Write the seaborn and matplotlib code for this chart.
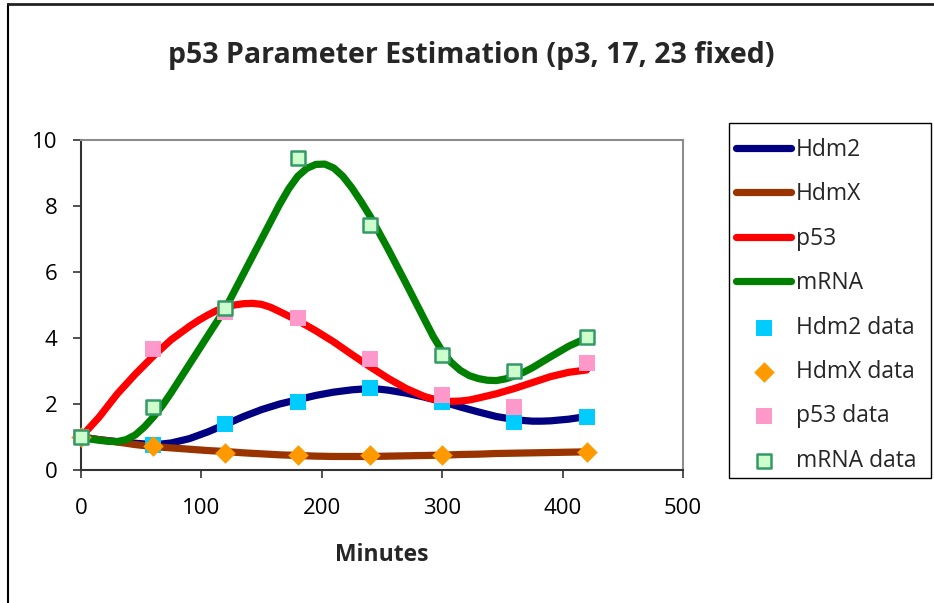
import numpy as np
import pandas as pd
import matplotlib
matplotlib.use("Agg")
import matplotlib.pyplot as plt
import seaborn as sns
from matplotlib.lines import Line2D
from matplotlib.patches import Rectangle

# ---- model curves ----
hdm2_minutes = [0, 15, 30, 45, 52.5, 60, 67.5, 75, 90, 105, 120, 135, 150, 165, 180, 195, 210,
                225, 232.5, 240, 247.5, 255, 270, 285, 300, 315, 330, 345, 360, 367.5, 375,
                382.5, 390, 405, 420]
hdm2_model = [1.0, 0.92, 0.86, 0.81, 0.79, 0.78, 0.79, 0.82, 0.95, 1.15, 1.38, 1.62, 1.83, 2.00,
              2.13, 2.26, 2.36, 2.43, 2.45, 2.46, 2.45, 2.42, 2.33, 2.21, 2.07, 1.91, 1.76, 1.62,
              1.53, 1.50, 1.48, 1.48, 1.49, 1.54, 1.62]

hdmx_minutes = [0, 15, 30, 45, 60, 75, 90, 105, 120, 135, 150, 165, 180, 195, 210,
                225, 240, 255, 270, 285, 300, 315, 330, 345, 360, 375, 390, 405, 420]
hdmx_model = [1.0, 0.92, 0.85, 0.77, 0.71, 0.67, 0.63, 0.59, 0.56, 0.52, 0.49, 0.46, 0.44, 0.42,
              0.41, 0.41, 0.41, 0.42, 0.43, 0.44, 0.45, 0.47, 0.48, 0.50, 0.51, 0.52, 0.53, 0.54,
              0.55]

p53_minutes = [0, 15, 30, 45, 60, 75, 90, 97.5, 105, 112.5, 120, 127.5, 135, 142.5, 150, 157.5,
               165, 180, 195, 210, 225, 240, 255, 270, 285, 292.5, 300, 307.5, 315, 322.5, 330,
               345, 360, 375, 390, 405, 420]
p53_model = [1.0, 1.6, 2.3, 2.9, 3.45, 3.95, 4.35, 4.53, 4.69, 4.83, 4.93, 5.0, 5.04, 5.05, 5.02,
             4.93, 4.8, 4.53, 4.22, 3.88, 3.5, 3.13, 2.78, 2.47, 2.23, 2.15, 2.10, 2.08, 2.09,
             2.12, 2.18, 2.31, 2.47, 2.65, 2.83, 2.96, 3.03]

mrna_minutes = [0, 7.5, 15, 22.5, 30, 37.5, 45, 52.5, 60, 67.5, 75, 90, 105, 120, 135, 150, 165,
                172.5, 180, 187.5, 195, 202.5, 210, 217.5, 225, 232.5, 240, 255, 270, 285, 292.5,
                300, 307.5, 315, 322.5, 330, 337.5, 345, 352.5, 360, 367.5, 375, 390, 405, 420]
mrna_model = [1.0, 0.94, 0.90, 0.87, 0.86, 0.92, 1.06, 1.30, 1.60, 1.95, 2.35, 3.2, 4.05, 4.9,
              5.95, 7.0, 8.05, 8.52, 8.9, 9.14, 9.26, 9.27, 9.15, 8.9, 8.55, 8.14, 7.7, 6.7, 5.65,
              4.58, 4.05, 3.6, 3.26, 3.02, 2.86, 2.77, 2.72, 2.71, 2.76, 2.85, 2.96, 3.1, 3.43,
              3.75, 4.0]

# ---- measured data ----
data_minutes = [0, 60, 120, 180, 240, 300, 360, 420]
hdm2_data = [1.0, 0.76, 1.39, 2.07, 2.47, 2.05, 1.45, 1.62]
hdmx_data = [1.0, 0.74, 0.53, 0.45, 0.44, 0.45, np.nan, 0.56]
p53_data = [1.0, 3.66, 4.8, 4.62, 3.35, 2.27, 1.92, 3.25]
mrna_data = [1.01, 1.9, 4.92, 9.46, 7.42, 3.5, 3.01, 4.04]

line_labels = ["Hdm2", "HdmX", "p53", "mRNA"]
data_labels = ["Hdm2 data", "HdmX data", "p53 data", "mRNA data"]

sns.set_theme(style="white")
plt.rcParams["font.family"] = ["Open Sans", "DejaVu Sans"]

W, H = 934, 603
fig = plt.figure(figsize=(W / 100, H / 100), dpi=100)
ax = fig.add_axes([81 / W, 1 - 470 / H, (683 - 81) / W, (470 - 140) / H])

line_colors = ["#000080", "#993300", "#FF0000", "#008000"]
series = [(hdm2_minutes, hdm2_model), (hdmx_minutes, hdmx_model),
          (p53_minutes, p53_model), (mrna_minutes, mrna_model)]
for (xs, vals), lab, col in zip(series, line_labels, line_colors):
    sns.lineplot(x=xs, y=vals, ax=ax, color=col, linewidth=5.2, label=lab,
                 sort=False, solid_capstyle="round", solid_joinstyle="round", zorder=2)

marker_specs = [
    (hdm2_data, data_labels[0], "s", "#00CCFF", "#00CCFF", 0.0, 130),
    (hdmx_data, data_labels[1], "D", "#FF9900", "#FF9900", 0.0, 110),
    (p53_data, data_labels[2], "s", "#FF99CC", "#FF99CC", 0.0, 130),
    (mrna_data, data_labels[3], "s", "#CCFFCC", "#339966", 1.8, 105),
]
for vals, lab, mk, fc, ec, lw, s in marker_specs:
    sns.scatterplot(x=data_minutes, y=vals, ax=ax, marker=mk, s=s, color=fc,
                    edgecolor=ec, linewidth=lw, label=lab, zorder=3, clip_on=False)

handles, labels = ax.get_legend_handles_labels()
if ax.get_legend() is not None:
    ax.get_legend().remove()

ax.set_xlim(0, 500)
ax.set_ylim(0, 10)
ax.set_xticks(range(0, 501, 100))
ax.set_yticks(range(0, 11, 2))
ax.set_xlabel("")
ax.set_ylabel("")
ax.tick_params(axis="both", which="major", direction="out", length=6, width=1.2,
               color="#333333", labelsize=16, labelcolor="black")
ax.tick_params(axis="x", pad=14, bottom=True)
ax.tick_params(axis="y", pad=11, left=True)
for side in ["left", "bottom"]:
    ax.spines[side].set_color("#333333")
    ax.spines[side].set_linewidth(1.5)
for side in ["top", "right"]:
    ax.spines[side].set_color("#8c8c8c")
    ax.spines[side].set_linewidth(1.5)

fig.text(471 / W, 1 - 56 / H, "p53 Parameter Estimation (p3, 17, 23 fixed)",
         ha="center", va="center", fontsize=20.5, fontweight="bold")
fig.text(382 / W, 1 - 555 / H, "Minutes", ha="center", va="center",
         fontsize=16.5, fontweight="bold")

# legend box drawn separately, entries placed inside it
fig.add_artist(Rectangle((729 / W, 1 - 478 / H), (931 - 729) / W, (478 - 123) / H,
                         transform=fig.transFigure, facecolor="white",
                         edgecolor="black", linewidth=1.0, zorder=1))
leg = fig.legend(handles, labels, loc="upper left", bbox_to_anchor=(736 / W, 1 - 138 / H),
                 frameon=False, fontsize=16.5, handlelength=2.4,
                 handletextpad=0.2, labelspacing=0.89, borderpad=0.0, borderaxespad=0)
leg.set_zorder(2)

fig.add_artist(Line2D([8 / W, 8 / W], [0, 1 - 4 / H], transform=fig.transFigure,
                      color="black", linewidth=1.5))
fig.add_artist(Line2D([8 / W, 1], [1 - 4 / H, 1 - 4 / H], transform=fig.transFigure,
                      color="#222222", linewidth=2))

fig.savefig("out.png", dpi=100, facecolor="white")
